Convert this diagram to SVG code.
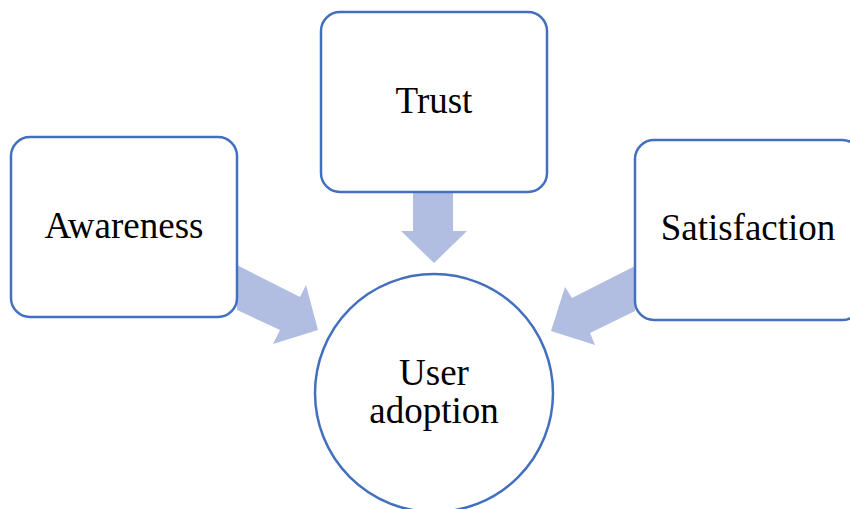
<svg xmlns="http://www.w3.org/2000/svg" width="850" height="509" viewBox="0 0 850 509">
<style>
.box{fill:#fff;stroke:#4270BF;stroke-width:2.5}
.arr{fill:#B1BEE1;stroke:none}
.lbl{font-family:"Liberation Serif","Times New Roman","DejaVu Serif",serif;font-size:37px;fill:#000;text-anchor:middle}
</style>
<rect width="850" height="509" fill="#fff"/>
<g id="connectors">
<polygon class="arr" points="237,265 300,297 306,285 318,330 273,344 280,330 237,310"/>
<polygon class="arr" points="635,266 572,298 565,287 551,331 595,345 590,333 635,311"/>
<polygon class="arr" points="413,192 453,192 453,231 467,231 434,263 401,231 413,231"/>
</g>
<g id="awareness">
<rect class="box" x="11" y="137" width="226" height="180" rx="19"/>
<text class="lbl" x="124" y="238">Awareness</text>
</g>
<g id="trust">
<rect class="box" x="321" y="12" width="226" height="180" rx="19"/>
<text class="lbl" x="434" y="113">Trust</text>
</g>
<g id="satisfaction">
<rect class="box" x="635" y="140" width="226" height="180" rx="19"/>
<text class="lbl" x="748" y="240">Satisfaction</text>
</g>
<g id="user-adoption">
<circle class="box" cx="434" cy="393" r="119"/>
<text class="lbl" x="434" y="385">User</text>
<text class="lbl" x="434" y="423">adoption</text>
</g>
</svg>
